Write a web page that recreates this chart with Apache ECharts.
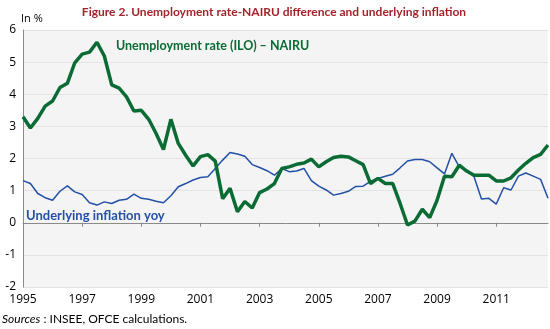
<!DOCTYPE html>
<html>
<head>
<meta charset="utf-8">
<script src="https://cdn.jsdelivr.net/npm/echarts@6/dist/echarts.min.js"></script>
<style>
html,body{margin:0;padding:0;background:#fff;}
#chart{width:550px;height:329px;}
</style>
</head>
<body>
<div id="chart"></div>
<script>
// Quarterly data 1995Q1 - 2012Q4
var years = [1995,1996,1997,1998,1999,2000,2001,2002,2003,2004,2005,2006,2007,2008,2009,2010,2011,2012];
var quarters = ['Q1','Q2','Q3','Q4'];
var tickYears = ['1995','1997','1999','2001','2003','2005','2007','2009','2011'];
var yTicks = [-2,-1,0,1,2,3,4,5,6];

var unemploymentGap = [
  3.30, 2.95, 3.25, 3.63, 3.79, 4.21, 4.34, 4.98,
  5.25, 5.31, 5.62, 5.19, 4.29, 4.19, 3.92, 3.48,
  3.50, 3.22, 2.78, 2.28, 3.22, 2.47, 2.10, 1.77,
  2.06, 2.12, 1.92, 0.75, 1.07, 0.34, 0.66, 0.46,
  0.94, 1.05, 1.22, 1.69, 1.74, 1.82, 1.86, 1.98,
  1.74, 1.90, 2.03, 2.07, 2.05, 1.93, 1.81, 1.22,
  1.38, 1.22, 1.22, 0.60, -0.07, 0.05, 0.42, 0.16,
  0.70, 1.45, 1.43, 1.79, 1.61, 1.48, 1.48, 1.48,
  1.30, 1.30, 1.40, 1.64, 1.85, 2.03, 2.13, 2.42
];
var underlyingInflation = [
  1.31, 1.22, 0.91, 0.78, 0.70, 0.98, 1.15, 0.96,
  0.88, 0.62, 0.55, 0.65, 0.60, 0.70, 0.73, 0.89,
  0.76, 0.73, 0.67, 0.62, 0.84, 1.12, 1.22, 1.33,
  1.41, 1.43, 1.69, 1.95, 2.19, 2.14, 2.07, 1.81,
  1.72, 1.62, 1.48, 1.69, 1.59, 1.61, 1.69, 1.31,
  1.14, 1.02, 0.86, 0.91, 0.98, 1.13, 1.14, 1.29,
  1.38, 1.45, 1.51, 1.71, 1.92, 1.97, 1.97, 1.90,
  1.71, 1.52, 2.16, 1.74, 1.64, 1.43, 0.74, 0.76,
  0.58, 1.09, 1.02, 1.45, 1.55, 1.45, 1.35, 0.76
];

var categories = [];
years.forEach(function(y){ quarters.forEach(function(q){ categories.push(y + q); }); });

var FONT = '"Open Sans", "DejaVu Sans", sans-serif';
var TFONT = 'Lato, "Open Sans", sans-serif';
var chart = echarts.init(document.getElementById('chart'), null, {renderer:'canvas'});
chart.setOption({
  animation:false,
  backgroundColor:'#ffffff',
  title:{
    text:'Figure 2. Unemployment rate-NAIRU difference and underlying inflation',
    left:269, top:1, textAlign:'center',
    textStyle:{color:'#a3232b', fontSize:12, fontWeight:'bold', fontFamily:TFONT}
  },
  grid:{left:23, right:2, top:30, bottom:42, show:true, backgroundColor:'#f4f4f4', borderWidth:0},
  xAxis:{
    type:'category', data:categories, boundaryGap:false,
    axisLine:{show:true, lineStyle:{color:'#8a8a8a', width:1}},
    axisTick:{show:true, length:4, interval:function(i){return i%8===0;}, lineStyle:{color:'#8a8a8a'}},
    axisLabel:{
      interval:function(i){return i%8===0;},
      formatter:function(v){ var y=v.slice(0,4); return tickYears.indexOf(y)>=0 ? y : ''; },
      color:'#000', fontSize:12, fontFamily:FONT, margin:7
    },
    splitLine:{show:false}
  },
  yAxis:{
    type:'value', min:yTicks[0], max:yTicks[yTicks.length-1], interval:1,
    name:'In %', nameLocation:'end', nameGap:6,
    nameTextStyle:{color:'#000', fontSize:11, fontFamily:FONT, align:'left', padding:[0,0,0,-2]},
    axisLine:{show:true, lineStyle:{color:'#8a8a8a', width:1}},
    axisTick:{show:false},
    axisLabel:{color:'#000', fontSize:12, fontFamily:FONT, margin:7},
    splitLine:{show:true, lineStyle:{color:'#e3e3e3', width:1}}
  },
  series:[
    {type:'line', name:'Underlying inflation yoy', data:underlyingInflation, symbol:'none',
     lineStyle:{color:'#2450a6', width:1.5}, z:2},
    {type:'line', name:'Unemployment rate (ILO) – NAIRU', data:unemploymentGap, symbol:'none',
     lineStyle:{color:'#0a6b34', width:3.5}, z:3}
  ],
  graphic:[
    {type:'text', left:116, top:39, style:{text:'Unemployment rate (ILO) – NAIRU', fill:'#0a6b34', font:'bold 12.5px ' + TFONT}},
    {type:'text', left:26, top:209, style:{text:'Underlying inflation yoy', fill:'#2450a6', font:'bold 13px ' + TFONT}},
    {type:'text', left:2, top:313, style:{
      text:'{i|Sources} : INSEE, OFCE calculations.',
      rich:{i:{fontStyle:'italic', fontSize:12, fontFamily:TFONT, fill:'#000'}},
      fill:'#000', font:'12px ' + TFONT}}
  ]
});
</script>
</body>
</html>
